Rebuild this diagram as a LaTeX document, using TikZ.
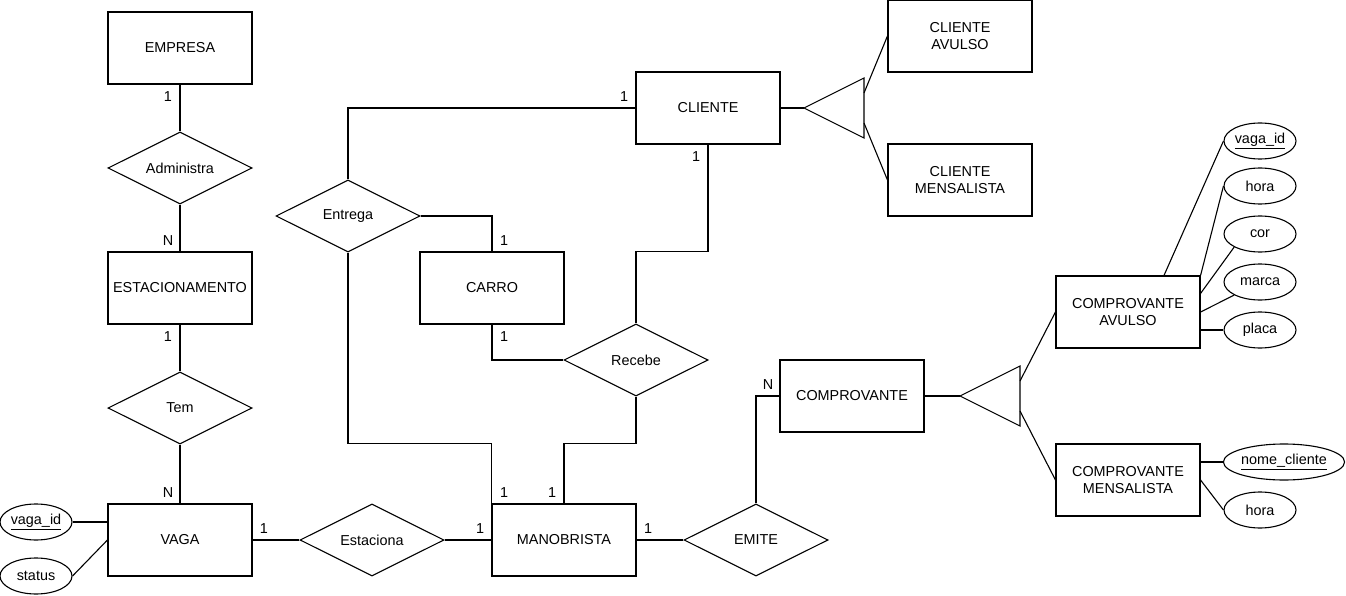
\documentclass[tikz,border=0pt]{standalone}
\usepackage{fontspec}
\setmainfont{Liberation Sans}
\usetikzlibrary{shapes.geometric}

\begin{document}
\begin{tikzpicture}[x=1pt, y=-1pt, line width=1.1pt, font=\fontsize{14.4}{16.5}\selectfont]
  \tikzstyle{entity}=[draw, rectangle, minimum width=144pt, minimum height=72pt, inner sep=0pt, align=center]
  \tikzstyle{rel}=[draw, diamond, aspect=2, minimum width=144pt, minimum height=72pt, inner sep=0pt]
  \tikzstyle{attr}=[draw, ellipse, minimum width=72pt, minimum height=36pt, inner sep=0pt]
  \tikzstyle{card}=[inner sep=0pt]

  \useasboundingbox (0,0) rectangle (1346,596);

  % entities
  \node (empresa) at (180,48) [entity] {EMPRESA};
  \node (estac) at (180,288) [entity] {ESTACIONAMENTO};
  \node (vaga) at (180,540) [entity] {VAGA};
  \node (carro) at (492,288) [entity] {CARRO};
  \node (manob) at (564,540) [entity] {MANOBRISTA};
  \node (cliente) at (708,108) [entity] {CLIENTE};
  \node (cliav) at (960,36) [entity] {CLIENTE\\AVULSO};
  \node (climen) at (960,180) [entity] {CLIENTE\\MENSALISTA};
  \node (comprov) at (852,396) [entity] {COMPROVANTE};
  \node (compav) at (1128,312) [entity] {COMPROVANTE\\AVULSO};
  \node (compmen) at (1128,480) [entity] {COMPROVANTE\\MENSALISTA};

  % relationships
  \node (administra) at (180,168) [rel] {Administra};
  \node (tem) at (180,408) [rel] {Tem};
  \node (entrega) at (348,216) [rel] {Entrega};
  \node (recebe) at (636,360) [rel] {Recebe};
  \node (estaciona) at (372,540) [rel] {Estaciona};
  \node (emite) at (756,540) [rel] {EMITE};

  % specialisations
  \coordinate (t1tip) at (804,108);
  \coordinate (t1up) at (864,93);
  \coordinate (t1low) at (864,123);
  \draw (t1tip) -- (864,78) -- (864,138) -- cycle;
  \coordinate (t2tip) at (960,396);
  \coordinate (t2up) at (1020,381);
  \coordinate (t2low) at (1020,411);
  \draw (t2tip) -- (1020,366) -- (1020,426) -- cycle;

  % attributes
  \node (vagaid) at (36,522) [attr] {\underline{vaga\_id}};
  \node (status) at (36,576) [attr] {status};
  \node (cvagaid) at (1260,141) [attr] {\underline{vaga\_id}};
  \node (chora) at (1260,186) [attr] {hora};
  \node (ccor) at (1260,234) [attr] {cor};
  \node (cmarca) at (1260,282) [attr] {marca};
  \node (cplaca) at (1260,330) [attr] {placa};
  \node (mnome) at (1284,462) [attr, minimum width=120pt] {\underline{nome\_cliente}};
  \node (mhora) at (1260,510) [attr] {hora};

  % connectors
  \draw (empresa) -- (administra);
  \draw (administra) -- (estac);
  \draw (estac) -- (tem);
  \draw (tem) -- (vaga);
  \draw (vaga) -- (estaciona);
  \draw (estaciona) -- (manob);
  \draw (manob) -- (emite);
  \draw (emite.north) |- (comprov.west);
  \draw (comprov) -- (t2tip);
  \draw (t2up) -- (compav.west);
  \draw (t2low) -- (compmen.west);
  \draw (cliente) -- (t1tip);
  \draw (t1up) -- (cliav.west);
  \draw (t1low) -- (climen.west);
  \draw (entrega.north) |- (cliente.west);
  \draw (entrega.east) -| (carro.north);
  \draw (entrega.south) |- ([yshift=60pt]manob.north west) -- (manob.north west);
  \draw (cliente.south) |- ([yshift=72pt]recebe.north) -- (recebe.north);
  \draw (carro.south) |- (recebe.west);
  \draw (recebe.south) |- ([yshift=60pt]manob.north) -- (manob.north);

  \draw ([yshift=18pt]vaga.west) -- (vagaid.east);
  \draw (vaga.west) -- (status.east);
  \draw ([xshift=36pt]compav.north) -- (cvagaid.west);
  \draw (compav.north east) -- (chora.west);
  \draw ([yshift=-18pt]compav.north east) -- (ccor.south west);
  \draw (compav.east) -- (cmarca.south west);
  \draw ([yshift=-18pt]compav.east) -- (cplaca.west);
  \draw ([yshift=18pt]compmen.east) -- (mnome.west);
  \draw (compmen.east) -- (mhora.west);

  % cardinalities
  \node (c1) at (168,97) [card] {1};
  \node (c2) at (168,241) [card] {N};
  \node (c3) at (168,337) [card] {1};
  \node (c4) at (168,493) [card] {N};
  \node (c5) at (264,529) [card] {1};
  \node (c6) at (480,529) [card] {1};
  \node (c7) at (648,529) [card] {1};
  \node (c8) at (504,493) [card] {1};
  \node (c9) at (552,493) [card] {1};
  \node (c10) at (504,241) [card] {1};
  \node (c11) at (504,337) [card] {1};
  \node (c12) at (624,97) [card] {1};
  \node (c13) at (696,157) [card] {1};
  \node (c14) at (768,385) [card] {N};
\end{tikzpicture}
\end{document}
